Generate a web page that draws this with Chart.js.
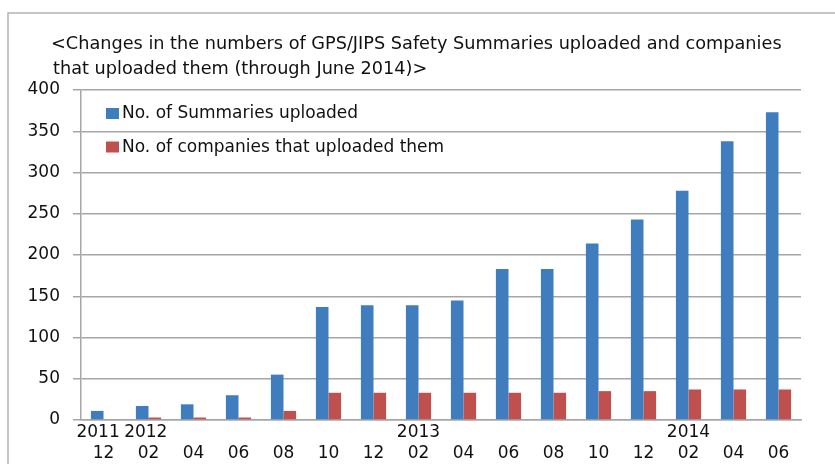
<!DOCTYPE html>
<html>
<head>
<meta charset="utf-8">
<script src="https://cdn.jsdelivr.net/npm/chart.js@4"></script>
<style>
  html, body { margin: 0; padding: 0; background: #fff; }
  #chart-1 { display: block; }
</style>
</head>
<body>
<canvas id="chart-1" width="835" height="464"></canvas>
<script>
// ====== dados ======
// espacos no fim de 2011/2012 empurram o ano um pouco para a esquerda, como no original
const years = ['2011  ', '2012 ', '', '', '', '', '', '2013', '', '', '', '', '', '2014', '', ''];
const months = ['12', '02', '04', '06', '08', '10', '12', '02', '04', '06', '08', '10', '12', '02', '04', '06'];
const summaries = [11, 17, 19, 30, 55, 137, 139, 139, 145, 183, 183, 214, 243, 278, 338, 373];
const companies = [1, 3, 3, 3, 11, 33, 33, 33, 33, 33, 33, 35, 35, 37, 37, 37];
const yTicks = [0, 50, 100, 150, 200, 250, 300, 350, 400];
const titleLines = [
  '<Changes in the numbers of GPS/JIPS Safety Summaries uploaded and companies',
  'that uploaded them (through June 2014)>'
];

const labels = months.map((m, i) => [years[i], m]);
const FONT = 'DejaVu Sans';

// moldura, titulo e legenda desenhados a mao
const frameTitleLegend = {
  id: 'frameTitleLegend',
  beforeDraw(chart) {
    const c = chart.ctx;
    c.save();
    c.fillStyle = '#fff';
    c.fillRect(0, 0, chart.width, chart.height);
    c.strokeStyle = '#b4b4b4';
    c.lineWidth = 1.5;
    c.beginPath();
    c.moveTo(8, chart.height);
    c.lineTo(8, 13);
    c.lineTo(chart.width, 13);
    c.stroke();
    c.restore();
  },
  afterDraw(chart) {
    const c = chart.ctx;
    c.save();
    c.fillStyle = '#111';
    c.textBaseline = 'alphabetic';
    c.font = '17.7px "' + FONT + '"';
    c.fillText(titleLines[0], 51, 49, 734);
    c.fillText(titleLines[1], 53, 74);

    // legenda dentro do grafico
    c.font = '17px "' + FONT + '"';
    c.textBaseline = 'middle';
    chart.data.datasets.forEach((ds, i) => {
      const y = 113.5 + i * 33.5;
      c.fillStyle = ds.backgroundColor;
      c.fillRect(106, y - 5.5, 13, 11);
      c.fillStyle = '#111';
      c.fillText(ds.label, 122, y + 0.5);
    });
    c.restore();
  }
};

const ctx1 = document.getElementById('chart-1');

new Chart(ctx1, {
  type: 'bar',
  data: {
    labels: labels,
    datasets: [{
      label: 'No. of Summaries uploaded',
      data: summaries,
      backgroundColor: '#3f7dbf',
      categoryPercentage: 0.56,
      barPercentage: 1
    }, {
      label: 'No. of companies that uploaded them',
      data: companies,
      backgroundColor: '#c0504d',
      categoryPercentage: 0.56,
      barPercentage: 1
    }]
  },
  options: {
    responsive: false,
    animation: false,
    layout: {
      padding: { top: 90, right: 34, left: 0, bottom: 0 }
    },
    plugins: {
      legend: { display: false },
      title: { display: false },
      tooltip: { enabled: false }
    },
    scales: {
      x: {
        grid: { display: false, drawTicks: false },
        border: { display: true, color: '#a6a6a6', width: 1.5 },
        ticks: {
          color: '#111',
          autoSkip: false,
          maxRotation: 0,
          padding: 2,
          font: { family: FONT, size: 17, lineHeight: 1.25 }
        },
        afterFit(scale) { scale.height = 44; }
      },
      y: {
        min: 0,
        max: 400,
        afterBuildTicks(scale) { scale.ticks = yTicks.map(v => ({ value: v })); },
        grid: { color: '#a6a6a6', lineWidth: 1.5, tickLength: 8 },
        border: { display: true, color: '#a6a6a6', width: 1.5 },
        ticks: {
          color: '#111',
          padding: 13,
          font: { family: FONT, size: 17 }
        },
        afterFit(scale) { scale.width = 81; }
      }
    }
  },
  plugins: [frameTitleLegend]
});
</script>
</body>
</html>
